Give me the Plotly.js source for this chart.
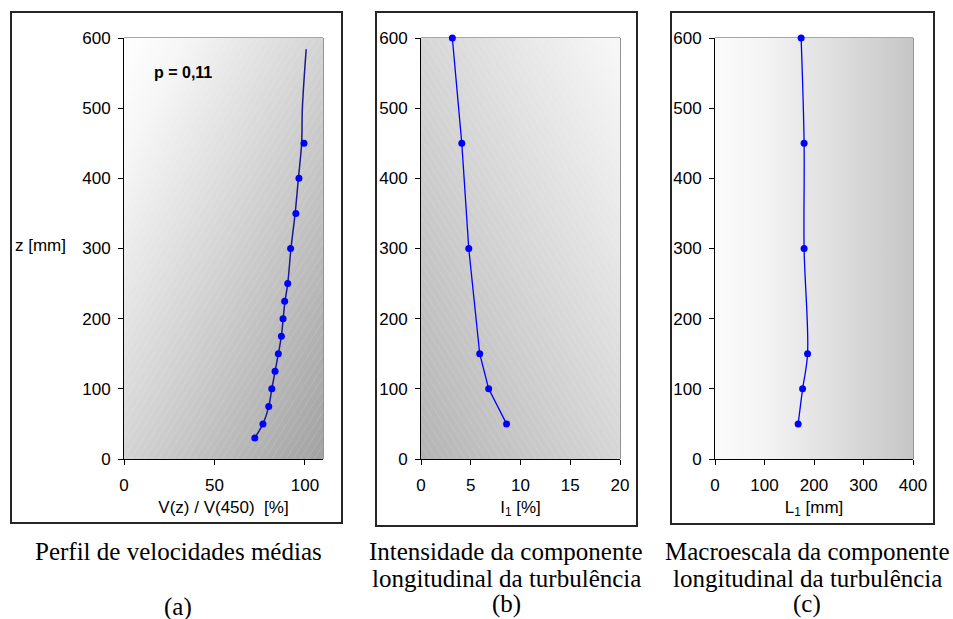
<!DOCTYPE html>
<html>
<head>
<meta charset="utf-8">
<script src="https://cdn.plot.ly/plotly-3.0.1.min.js"></script>
<style>html,body{margin:0;padding:0;background:#fff;}#chart{width:953px;height:619px;}</style>
</head>
<body>
<div id="chart"></div>
<script>
// ---- Data ----
// (a) mean velocity profile
const zA = [30, 50, 75, 100, 125, 150, 175, 200, 225, 250, 300, 350, 400, 450];
const vA = [72.3, 76.8, 80.0, 81.7, 83.5, 85.3, 87.0, 87.9, 88.8, 90.5, 92.1, 95.0, 96.7, 99.5];
// (a) power-law fit curve (p = 0,11)
const zFitA = [30, 50, 75, 100, 125, 150, 175, 200, 225, 250, 300, 350, 400, 450, 500, 584];
const vFitA = [72.3, 76.8, 80.0, 81.7, 83.5, 85.3, 87.0, 88.0, 89.0, 90.5, 92.3, 94.6, 96.4, 98.2, 98.6, 100.7];
// (b) longitudinal turbulence intensity
const zB = [50, 100, 150, 300, 450, 600];
const iB = [8.6, 6.8, 5.9, 4.8, 4.1, 3.15];
// (c) longitudinal integral length scale
const zC = [50, 100, 150, 300, 450, 600];
const lC = [168, 177, 187, 180, 180, 174];

const yTicks = [0, 100, 200, 300, 400, 500, 600];
const xTicksA = [0, 50, 100];
const xTicksB = [0, 5, 10, 15, 20];
const xTicksC = [0, 100, 200, 300, 400];

const captionA = ['Perfil de velocidades médias', '(a)'];
const captionB = ['Intensidade da componente', 'longitudinal da turbulência', '(b)'];
const captionC = ['Macroescala da componente', 'longitudinal da turbulência', '(c)'];

// ---- Helpers ----
const W = 953, H = 619;
const px = v => v / W;
const py = v => 1 - v / H;
const SANS = 'Arial, "Liberation Sans", sans-serif';
const SERIF = '"Times New Roman", "Liberation Serif", serif';

function bgImage(kind) {
  const w = 199, h = 421;
  let grad, rot;
  if (kind === 'a') {
    grad = '<linearGradient id="g" x1="0" y1="0" x2="1" y2="1"><stop offset="0" stop-color="#ffffff"/><stop offset="0.15" stop-color="#f6f6f6"/><stop offset="1" stop-color="#a2a2a2"/></linearGradient>';
    rot = 32;
  } else if (kind === 'b') {
    grad = '<linearGradient id="g" x1="1" y1="0" x2="0" y2="1"><stop offset="0" stop-color="#f8f8f8"/><stop offset="1" stop-color="#b4b4b4"/></linearGradient>';
    rot = -32;
  } else {
    grad = '<linearGradient id="g" x1="0" y1="0" x2="1" y2="0"><stop offset="0" stop-color="#fbfbfb"/><stop offset="0.25" stop-color="#f4f4f4"/><stop offset="1" stop-color="#c6c6c6"/></linearGradient>';
    rot = null;
  }
  let pat = '';
  let patRect = '';
  if (rot !== null) {
    pat = '<pattern id="p" width="6" height="6" patternUnits="userSpaceOnUse" patternTransform="rotate(' + rot + ')"><line x1="0" y1="0" x2="0" y2="6" stroke="#ffffff" stroke-opacity="0.22" stroke-width="1"/></pattern>';
    patRect = '<rect width="' + w + '" height="' + h + '" fill="url(#p)"/>';
  }
  const svg = '<svg xmlns="http://www.w3.org/2000/svg" width="' + w + '" height="' + h + '" viewBox="0 0 ' + w + ' ' + h + '" preserveAspectRatio="none"><defs>' + grad + pat + '</defs><rect width="' + w + '" height="' + h + '" fill="url(#g)"/>' + patRect + '</svg>';
  return 'data:image/svg+xml;charset=utf-8,' + encodeURIComponent(svg);
}

const axisBase = {
  showline: true, linecolor: '#000', linewidth: 1,
  ticks: 'outside', ticklen: 5, tickcolor: '#000', tickwidth: 1,
  showgrid: false, zeroline: false, fixedrange: true,
  tickfont: {family: SANS, size: 17, color: '#000'}
};

const yDom = [py(459), py(38)];
function xAxis(dom, range, ticks, title, anchor) {
  return Object.assign({}, axisBase, {
    domain: dom, range: range, tickvals: ticks, anchor: anchor,
    ticklabelstandoff: 6,
    title: {text: title, font: {family: SANS, size: 17, color: '#000'}, standoff: 6}
  });
}
function yAxis(anchor) {
  return Object.assign({}, axisBase, {
    domain: yDom, range: [0, 600], tickvals: yTicks, anchor: anchor,
    ticklabelstandoff: 4
  });
}

const blue = '#0000ff';
const traces = [
  {x: vFitA, y: zFitA, xaxis: 'x', yaxis: 'y', mode: 'lines', line: {color: '#1a1a8c', width: 1.5, shape: 'spline'}, hoverinfo: 'skip', cliponaxis: false},
  {x: vA, y: zA, xaxis: 'x', yaxis: 'y', mode: 'markers', marker: {color: blue, size: 7}, cliponaxis: false},
  {x: iB, y: zB, xaxis: 'x2', yaxis: 'y2', mode: 'lines+markers', line: {color: blue, width: 1.3}, marker: {color: blue, size: 7}, cliponaxis: false},
  {x: lC, y: zC, xaxis: 'x3', yaxis: 'y3', mode: 'lines+markers', line: {color: blue, width: 1.3, shape: 'spline'}, marker: {color: blue, size: 7}, cliponaxis: false}
];

const frames = [[11, 12, 342, 523], [376, 12, 637, 526], [671, 12, 934, 524]];
const shapes = frames.map(f => ({
  type: 'rect', xref: 'paper', yref: 'paper',
  x0: px(f[0]), x1: px(f[2]), y0: py(f[3]), y1: py(f[1]),
  line: {color: '#262626', width: 2}, fillcolor: 'rgba(0,0,0,0)', layer: 'above'
}));
['x', 'x2', 'x3'].forEach((xa, i) => {
  const ya = ['y', 'y2', 'y3'][i];
  shapes.push({type: 'line', xref: xa + ' domain', yref: ya + ' domain', x0: 0, x1: 1, y0: 1, y1: 1, line: {color: '#8a8a8a', width: 1.5}, layer: 'below'});
  shapes.push({type: 'line', xref: xa + ' domain', yref: ya + ' domain', x0: 1, x1: 1, y0: 0, y1: 1, line: {color: '#707070', width: 1.5}, layer: 'below'});
});

const images = [['x', 'y', 'a'], ['x2', 'y2', 'b'], ['x3', 'y3', 'c']].map(r => ({
  source: bgImage(r[2]), xref: r[0] + ' domain', yref: r[1] + ' domain',
  x: 0, y: 1, sizex: 1, sizey: 1, xanchor: 'left', yanchor: 'top',
  sizing: 'stretch', layer: 'below'
}));

const annotations = [
  {text: '<b>p = 0,11</b>', xref: 'paper', yref: 'paper', x: px(183), y: py(72), showarrow: false, xanchor: 'center', yanchor: 'middle', font: {family: SANS, size: 16, color: '#000'}},
  {text: 'z [mm]', xref: 'paper', yref: 'paper', x: px(13), y: py(245), showarrow: false, xanchor: 'left', yanchor: 'middle', font: {family: SANS, size: 17, color: '#000'}}
];
function caption(lines, cx, ys) {
  lines.forEach((t, i) => annotations.push({
    text: t, xref: 'paper', yref: 'paper', x: px(cx), y: py(ys[i]), showarrow: false,
    xanchor: 'center', yanchor: 'middle', font: {family: SERIF, size: 25, color: '#000'}
  }));
}
caption(captionA, 178, [551, 607]);
caption(captionB, 506, [551, 578, 604]);
caption(captionC, 807, [551, 578, 604]);

const layout = {
  width: W, height: H, margin: {l: 0, r: 0, t: 0, b: 0, pad: 0},
  paper_bgcolor: '#ffffff', plot_bgcolor: 'rgba(0,0,0,0)', showlegend: false,
  xaxis: xAxis([px(124), px(323)], [0, 110], xTicksA, 'V(z) / V(450)  [%]', 'y'),
  yaxis: yAxis('x'),
  xaxis2: xAxis([px(421), px(620)], [0, 20], xTicksB, 'I<sub>1</sub> [%]', 'y2'),
  yaxis2: yAxis('x2'),
  xaxis3: xAxis([px(715), px(913)], [0, 400], xTicksC, 'L<sub>1</sub> [mm]', 'y3'),
  yaxis3: yAxis('x3'),
  shapes: shapes, images: images, annotations: annotations
};

Plotly.newPlot('chart', traces, layout, {displayModeBar: false, staticPlot: true});
</script>
</body>
</html>
